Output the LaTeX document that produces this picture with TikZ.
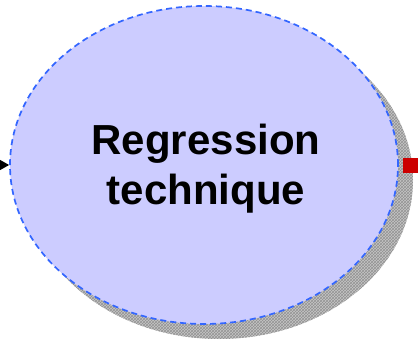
\documentclass[tikz,border=0pt]{standalone}
\usepackage{fontspec}
\setmainfont{Liberation Sans}
\usetikzlibrary{arrows.meta,patterns,shapes.geometric}
\definecolor{ellfill}{HTML}{CCCCFF}
\definecolor{elldash}{HTML}{3366FF}
\definecolor{portred}{HTML}{CC0000}
\tikzset{
  ellbox/.style={ellipse, minimum width=388pt, minimum height=318pt, inner sep=0pt,
    fill=ellfill, draw=elldash, line width=1.7pt, dash pattern=on 6pt off 4pt},
  shadowbox/.style={ellipse, minimum width=388pt, minimum height=318pt, inner sep=0pt,
    fill=gray!45, postaction={pattern=crosshatch, pattern color=gray!85}},
  portbox/.style={rectangle, fill=portred, minimum size=15pt, inner sep=0pt},
  lbl/.style={font=\bfseries\fontsize{42}{50}\selectfont, align=center, text=black}
}
\begin{document}
\begin{tikzpicture}[x=1pt,y=1pt]
\useasboundingbox (0,0) rectangle (418,-340);
\node[shadowbox] (sh) at (219,-180) {};
\node[ellbox] (ell) at (204,-165) {};
\node[lbl] (txt) at (206,-169) {Regression\\technique};
\node[portbox] (port) at (410.5,-165.5) {};
\coordinate (in) at (0,-165);
\draw[line width=1pt, -{Triangle[length=11pt,width=12pt]}] (in) -- (ell.west);
\end{tikzpicture}
\end{document}
